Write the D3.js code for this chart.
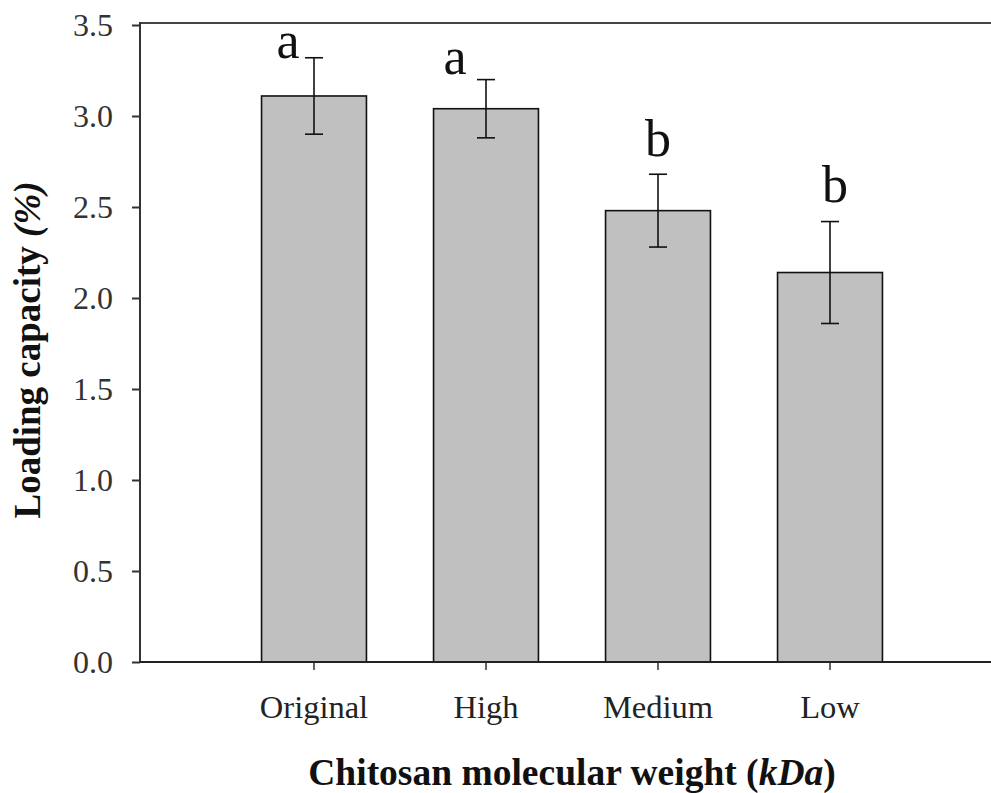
<!DOCTYPE html>
<html lang="en">
<head>
    <meta charset="UTF-8">
    <title>Loading capacity</title>
    <script src="https://cdnjs.cloudflare.com/ajax/libs/d3/7.8.5/d3.min.js"></script>
    <style>
        body { margin: 0; background: #fff; }
        text { font-family: "Liberation Serif", "Times New Roman", serif; }
    </style>
</head>
<body>
<svg id="chart" width="991" height="793"></svg>
<script>
    // data
    var categories = ["Original", "High", "Medium", "Low"];
    var means = [3.11, 3.04, 2.48, 2.14];
    var errors = [0.21, 0.16, 0.20, 0.28];
    var letters = ["a", "a", "b", "b"];
    var yTicks = [0, 0.5, 1.0, 1.5, 2.0, 2.5, 3.0, 3.5];

    var svg = d3.select("#chart");
    var plotLeft = 140, plotTop = 25, plotBottom = 662, plotRight = 991;

    var x = d3.scaleBand()
        .domain(categories)
        .range([142, 1002])
        .paddingInner(0.39)
        .paddingOuter(0.695);

    var y = d3.scaleLinear()
        .domain([0, 3.5])
        .range([plotBottom, plotTop]);

    // letter placement relative to the error bar top
    var letterDx = [-26, -31, 0, 5];
    var letterDy = [0, -6, -18, -20];

    // top frame line (no right side)
    svg.append("line")
        .attr("x1", plotLeft).attr("x2", plotRight)
        .attr("y1", y(3.5) - 2).attr("y2", y(3.5) - 2)
        .attr("stroke", "#444").attr("stroke-width", 2);

    // bars
    svg.append("g")
        .selectAll("rect")
        .data(categories)
        .enter()
        .append("rect")
        .attr("x", function(d) { return x(d); })
        .attr("width", x.bandwidth())
        .attr("y", function(d, i) { return y(means[i]); })
        .attr("height", function(d, i) { return y(0) - y(means[i]); })
        .attr("fill", "#c0c0c0")
        .attr("stroke", "#111")
        .attr("stroke-width", 1.6);

    // error bars
    var eb = svg.append("g")
        .attr("stroke", "#111")
        .attr("stroke-width", 1.6);
    categories.forEach(function(c, i) {
        var cx = x(c) + x.bandwidth() / 2;
        var hi = y(means[i] + errors[i]), lo = y(means[i] - errors[i]);
        eb.append("line").attr("x1", cx).attr("x2", cx).attr("y1", hi).attr("y2", lo);
        eb.append("line").attr("x1", cx - 9).attr("x2", cx + 9).attr("y1", hi).attr("y2", hi);
        eb.append("line").attr("x1", cx - 9).attr("x2", cx + 9).attr("y1", lo).attr("y2", lo);
    });

    // significance letters
    svg.append("g")
        .selectAll("text")
        .data(letters)
        .enter()
        .append("text")
        .attr("x", function(d, i) { return x(categories[i]) + x.bandwidth() / 2 + letterDx[i]; })
        .attr("y", function(d, i) { return y(means[i] + errors[i]) + letterDy[i]; })
        .attr("text-anchor", "middle")
        .attr("font-size", 52)
        .attr("fill", "#111")
        .text(function(d) { return d; });

    // y axis
    var yAxis = svg.append("g")
        .attr("transform", "translate(" + plotLeft + ",0)")
        .call(d3.axisLeft(y)
            .tickValues(yTicks)
            .tickFormat(d3.format(".1f"))
            .tickSize(8)
            .tickSizeOuter(0)
            .tickPadding(19));
    yAxis.select(".domain").attr("stroke", "#333").attr("stroke-width", 2)
        .attr("d", "M0," + (y(3.5) - 3) + "V" + y(0));
    yAxis.selectAll(".tick line").attr("stroke", "#333").attr("stroke-width", 2);
    yAxis.selectAll("text")
        .attr("font-size", 32)
        .attr("fill", "#333")
        .attr("font-family", "Liberation Serif, serif");

    // x axis
    var xAxis = svg.append("g")
        .attr("transform", "translate(0," + y(0) + ")")
        .call(d3.axisBottom(x)
            .tickSize(8)
            .tickSizeOuter(0)
            .tickPadding(25));
    xAxis.select(".domain").remove();
    xAxis.selectAll(".tick line").attr("stroke", "#333").attr("stroke-width", 1.5);
    xAxis.selectAll("text")
        .attr("font-size", 32.5)
        .attr("fill", "#222")
        .attr("font-family", "Liberation Serif, serif");
    svg.append("line")
        .attr("x1", plotLeft).attr("x2", plotRight)
        .attr("y1", y(0)).attr("y2", y(0))
        .attr("stroke", "#222").attr("stroke-width", 2.2);

    // axis titles
    var xt = svg.append("text")
        .attr("x", 572)
        .attr("y", 785)
        .attr("text-anchor", "middle")
        .attr("font-size", 37.5)
        .attr("font-weight", "bold")
        .attr("fill", "#111");
    xt.append("tspan").text("Chitosan molecular weight (");
    xt.append("tspan").attr("font-style", "italic").text("kDa");
    xt.append("tspan").text(")");

    var yt = svg.append("text")
        .attr("transform", "translate(40," + 350 + ") rotate(-90)")
        .attr("text-anchor", "middle")
        .attr("font-size", 37)
        .attr("font-weight", "bold")
        .attr("fill", "#111");
    yt.append("tspan").text("Loading capacity ");
    yt.append("tspan").attr("font-style", "italic").text("(%)");
</script>
</body>
</html>
